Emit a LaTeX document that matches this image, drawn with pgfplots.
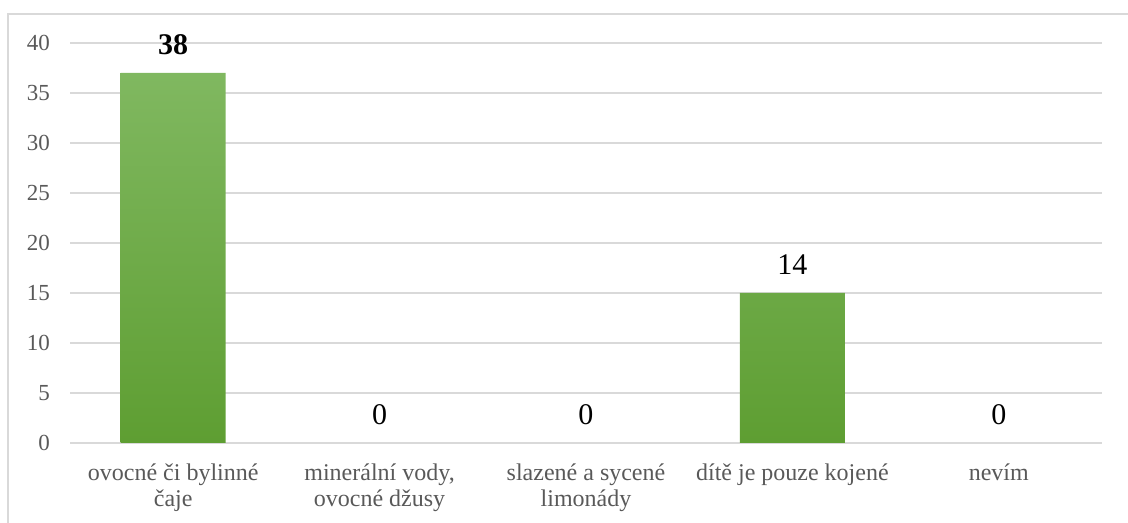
\documentclass[border=0pt]{standalone}
\usepackage{fontspec}
\setmainfont{Liberation Serif}
\usepackage{pgfplots}
\pgfplotsset{compat=1.18}
\definecolor{gridgray}{HTML}{D9D9D9}
\definecolor{labgray}{HTML}{595959}
\definecolor{bartop}{HTML}{80B860}
\definecolor{barbot}{HTML}{5E9E32}
\begin{document}
\begin{tikzpicture}[x=1bp,y=1bp]
\useasboundingbox (0,0) rectangle (1128,523);
\draw[gridgray, line width=1.5bp] (8,0) -- (8,509) -- (1128,509);
\begin{axis}[
  at={(70bp,80bp)}, anchor=south west,
  scale only axis, width=1032bp, height=400bp,
  xmin=-0.5, xmax=4.5, ymin=0, ymax=40,
  ytick={0,5,...,40},
  xtick={0,...,4},
  xticklabels={{ovocné či bylinné\\čaje},{minerální vody,\\ovocné džusy},{slazené a sycené\\limonády},{dítě je pouze kojené},{nevím}},
  axis line style={draw=none},
  major tick length=0pt,
  ymajorgrids, grid style={gridgray, line width=1.5bp},
  yticklabel style={font=\fontsize{23bp}{26bp}\selectfont, text=labgray, anchor=east, inner sep=0pt, xshift=-20bp},
  xticklabel style={font=\fontsize{24bp}{26bp}\selectfont, text=labgray, align=center, anchor=north, inner sep=0pt, yshift=-21bp},
  /pgf/number format/assume math mode=true,
]
% bars (zero-height bars are not drawn)
\addplot[ybar, bar width=105bp, draw=none, top color=bartop, bottom color=barbot]
  coordinates {(0,37) (3,15)};
% value labels as printed in the chart
\addplot[only marks, mark=none, nodes near coords, point meta=explicit symbolic,
  every node near coord/.append style={font=\fontsize{30bp}{32bp}\selectfont, text=black, inner sep=0pt, anchor=south, yshift=18bp}]
  coordinates {(0,37)[\textbf{38}] (1,0)[0] (2,0)[0] (3,15)[14] (4,0)[0]};
\end{axis}
\end{tikzpicture}
\end{document}
